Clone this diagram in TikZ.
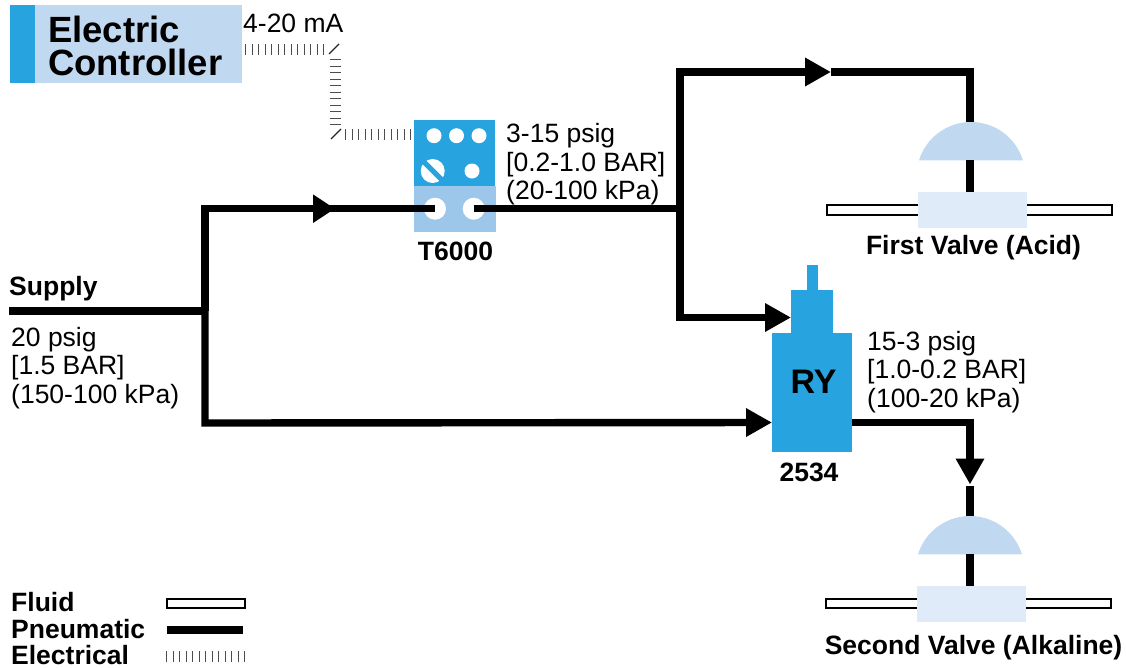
\documentclass[tikz,border=0pt]{standalone}
\usepackage{fontspec}
\setmainfont{Liberation Sans}
\usetikzlibrary{arrows.meta}
\definecolor{bluedark}{HTML}{27A3DF}
\definecolor{bluemid}{HTML}{9DC6EB}
\definecolor{bluedome}{HTML}{C0D8F0}
\definecolor{bluebody}{HTML}{DFEBF8}
\tikzset{
  x=1pt,y=-1pt,
  pneu/.style={draw=black,line width=7.4pt,line join=miter},
  tip/.style={-{Triangle[length=26pt,width=27pt]},shorten >=0pt},
  tipshort/.style={-{Triangle[length=22pt,width=27pt]},shorten >=0pt},
  elec/.style={draw=black!70,line width=11pt,dash pattern=on 1.4pt off 5.1pt},
  slash/.style={draw=black!85,line width=1.2pt},
  fluid/.style={draw=black,line width=1.6pt,fill=white},
  lab/.style={inner sep=0pt,anchor=base west,font=\fontsize{26.5}{28}\selectfont},
  blab/.style={inner sep=0pt,anchor=base,font=\fontsize{26.5}{28}\selectfont\bfseries},
  multi/.style={inner sep=0pt,anchor=north west,align=left,font=\fontsize{26.5}{28.4}\selectfont},
  hole/.style={fill=white,draw=none,circle,inner sep=0pt},
  box/.style={draw=none,inner sep=0pt,outer sep=0pt}
}
\begin{document}
\begin{tikzpicture}
\useasboundingbox (0,0) rectangle (1126,667);
% Electric controller
\fill[bluedark] (10,5) rectangle (35,83);
\fill[bluedome] (35,5) rectangle (242,83);
\node[box,anchor=west,align=left,font=\fontsize{36.5}{33}\selectfont\bfseries] (ctrl) at (48,46) {Electric\\Controller};
\node[lab] (ma) at (243,32) {4-20 mA};
% electrical line
\coordinate (e1) at (245,49);
\coordinate (e2) at (326,49);
\coordinate (e3) at (335,59);
\coordinate (e4) at (335,125);
\coordinate (e5) at (345,134.5);
\coordinate (e6) at (413,134.5);
\draw[elec] (e1) -- (e2);
\draw[elec] (e3) -- (e4);
\draw[elec] (e5) -- (e6);
\draw[slash] (329,54) -- (339,44);
\draw[slash] (331,139) -- (341,129);
% T6000
\fill[bluedark] (414,120) rectangle (495,186);
\fill[bluemid] (414,186) rectangle (496,232);
\node[hole,minimum size=15pt] (d1) at (434,135.7) {};
\node[hole,minimum size=15pt] (d2) at (456.5,135.7) {};
\node[hole,minimum size=15pt] (d3) at (479,135.7) {};
\node[hole,minimum size=15pt] (d4) at (472,171) {};
\node[hole,minimum size=24pt] (screw) at (432.7,171) {};
\draw[bluedark,line width=5pt] (421,159) -- (445,183);
\node[hole,minimum size=22pt] (pin) at (435,208.7) {};
\node[hole,minimum size=22pt] (pout) at (473.7,208.7) {};
\node[blab] (tlab) at (455.5,260) {T6000};
\node[multi] (tp) at (506,123.5) {3-15 psig\\{}[0.2-1.0 BAR]\\(20-100 kPa)};
% Supply
\node[blab,anchor=base west] (sup) at (9,295) {Supply};
\node[multi] (sp) at (11,327) {20 psig\\{}[1.5 BAR]\\(150-100 kPa)};
% RY relay
\fill[bluedark] (807,265) rectangle (818,291);
\fill[bluedark] (791,290) rectangle (833,334);
\fill[bluedark] (772,333) rectangle (852,452);
\node[box,font=\fontsize{34}{34}\selectfont\bfseries] (ry) at (813.5,382) {RY};
\node[blab] (rlab) at (809,481) {2534};
\node[multi] (rp) at (867,331) {15-3 psig\\{}[1.0-0.2 BAR]\\(100-20 kPa)};
\coordinate (ryin1) at (791,317.5);
\coordinate (ryin2) at (772,422.5);
\coordinate (ryout) at (852,422.5);
% First valve
\draw[fluid] (826.8,204.8) rectangle (1112,214.8);
\fill[bluebody] (918,192) rectangle (1027,228);
\fill[bluedome] (919,160.3) arc[start angle=197.2,end angle=342.8,radius=54.4] -- cycle;
\coordinate (dome1t) at (970,122);
\coordinate (dome1b) at (970,160);
\coordinate (body1) at (970,192);
\node[blab] (v1) at (973.5,254) {First Valve (Acid)};
% Second valve
\draw[fluid] (825.8,598.8) rectangle (1111,608.2);
\fill[bluebody] (917,586) rectangle (1026,622);
\fill[bluedome] (918,554.3) arc[start angle=197.2,end angle=342.8,radius=54.4] -- cycle;
\coordinate (dome2t) at (970,516);
\coordinate (dome2b) at (970,554);
\coordinate (body2) at (970,586);
\node[blab] (v2) at (973.5,654) {Second Valve (Alkaline)};
% Pneumatic lines
\coordinate (s0) at (9,311);
\coordinate (j1) at (205,311);
\coordinate (j2) at (205,208.7);
\coordinate (j3) at (205,423);
\coordinate (a1) at (335,208.7);
\coordinate (j4) at (680,208.7);
\coordinate (j5) at (680,72);
\coordinate (a2) at (831,72);
\coordinate (j6) at (970,72);
\coordinate (j7) at (680,317.5);
\coordinate (j8) at (970,422.5);
\coordinate (a3) at (970,484.5);
\coordinate (j9) at (970,486);
\draw[pneu] (s0) -- (j1);
\draw[pneu] (j1) -- (j2) -- (pin.center);
\draw[pneu,tipshort] (j2) -- (a1);
\draw[pneu,tip] (j1) -- (j3) -- (ryin2);
\draw[pneu] (pout.center) -- (j4);
\draw[pneu,tip] (j4) -- (j5) -- (a2);
\draw[pneu] (a2) -- (j6) -- (dome1t);
\draw[pneu] (dome1b) -- (body1);
\draw[pneu,tip] (j4) -- (j7) -- (ryin1);
\draw[pneu,tip] (ryout) -- (j8) -- (a3);
\draw[pneu] (j9) -- (dome2t);
\draw[pneu] (dome2b) -- (body2);
% Legend
\node[blab,anchor=base west] (lf) at (11,611) {Fluid};
\node[blab,anchor=base west] (lp) at (11,638) {Pneumatic};
\node[blab,anchor=base west] (le) at (11,664) {Electrical};
\draw[fluid] (166.8,599) rectangle (245,608);
\coordinate (lp1) at (167,630);
\coordinate (lp2) at (243,630);
\draw[pneu] (lp1) -- (lp2);
\coordinate (le1) at (166,656.5);
\coordinate (le2) at (246,656.5);
\draw[elec] (le1) -- (le2);
\end{tikzpicture}
\end{document}
